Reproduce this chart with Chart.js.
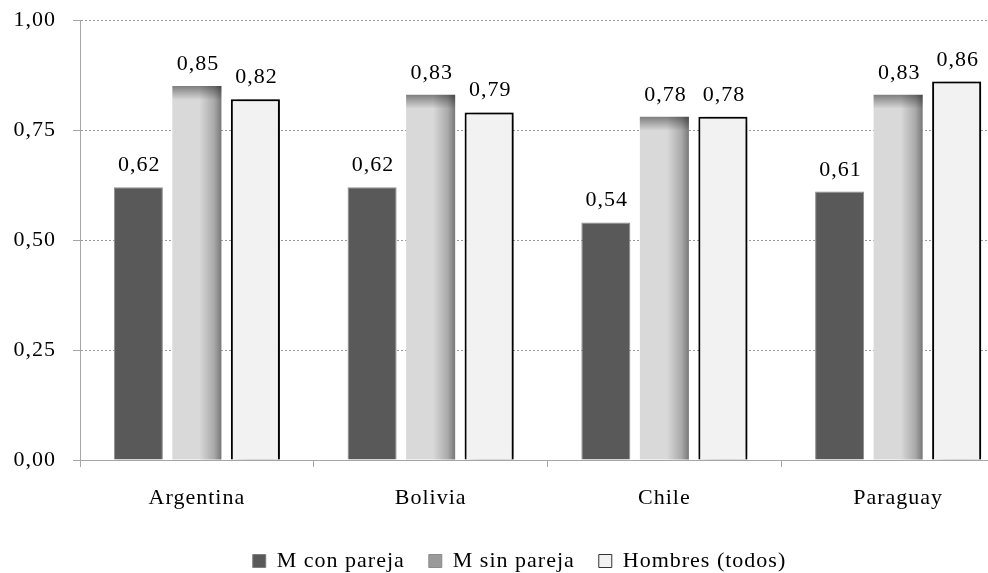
<!DOCTYPE html>
<html>
<head>
<meta charset="utf-8">
<script src="https://cdn.jsdelivr.net/npm/chart.js@4.4.1/dist/chart.umd.min.js"></script>
<style>
  html, body { margin: 0; padding: 0; background: #ffffff; overflow: hidden; }
  #wrap { width: 988px; height: 573px; overflow: hidden; position: relative; }
  canvas { display: block; }
</style>
</head>
<body>
<div id="wrap"><canvas id="c" width="1038" height="582"></canvas></div>
<script>
// Countries on the horizontal axis
const categories = ['Argentina', 'Bolivia', 'Chile', 'Paraguay'];

// Series values per country
const mConPareja = [0.62, 0.62, 0.54, 0.61];
const mSinPareja = [0.85, 0.83, 0.78, 0.83];
const hombresTodos = [0.82, 0.79, 0.78, 0.86];

const seriesNames = ['M con pareja', 'M sin pareja', 'Hombres (todos)'];

// Vertical axis tick labels (0 to 1 in steps of 0.25)
const yTickLabels = ['0,00', '0,25', '0,50', '0,75', '1,00'];

const FONT = { family: '"Liberation Serif", "Times New Roman", serif', size: 22 };
const TEXT = '#000000';
const AXIS = '#a6a6a6';

const fmt = v => v.toFixed(2).replace('.', ',');

// Slightly spaced lettering for all canvas text
const spacing = {
  id: 'spacing',
  beforeUpdate(chart) { chart.ctx.letterSpacing = '1px'; },
  beforeDraw(chart) { chart.ctx.letterSpacing = '1px'; }
};

// Legend sits a little right of the axis-area centre
const legendShift = {
  id: 'legendShift',
  afterLayout(chart) {
    if (chart.legend) {
      chart.legend.left += 12;
      chart.legend.right += 12;
    }
  }
};

// Shaded look: inner shading on the light bars, drop shadow on the outlined bars
const barEffects = {
  id: 'barEffects',
  beforeDatasetDraw(chart, args) {
    if (args.index === 2) {
      const ctx = chart.ctx;
      ctx.save();
      ctx.shadowColor = 'rgba(0,0,0,0.6)';
      ctx.shadowBlur = 10;
      ctx.shadowOffsetX = 4;
      ctx.shadowOffsetY = 1;
    }
  },
  afterDatasetDraw(chart, args) {
    const ctx = chart.ctx;
    if (args.index === 2) {
      ctx.restore();
    }
    if (args.index === 1) {
      args.meta.data.forEach(el => {
        const p = el.getProps(['x', 'y', 'base', 'width'], true);
        const left = p.x - p.width / 2;
        const right = p.x + p.width / 2;
        const top = p.y;
        const h = p.base - p.y;
        ctx.save();
        const gx = ctx.createLinearGradient(left, 0, right, 0);
        gx.addColorStop(0, 'rgba(0,0,0,0)');
        gx.addColorStop(0.55, 'rgba(0,0,0,0)');
        gx.addColorStop(0.85, 'rgba(0,0,0,0.22)');
        gx.addColorStop(1, 'rgba(0,0,0,0.45)');
        ctx.fillStyle = gx;
        ctx.fillRect(left, top, p.width, h);
        const gy = ctx.createLinearGradient(0, top, 0, top + 14);
        gy.addColorStop(0, 'rgba(0,0,0,0.42)');
        gy.addColorStop(1, 'rgba(0,0,0,0)');
        ctx.fillStyle = gy;
        ctx.fillRect(left, top, p.width, 14);
        ctx.restore();
      });
    }
  }
};

// Value labels above every bar
const valueLabels = {
  id: 'valueLabels',
  afterDatasetsDraw(chart) {
    const ctx = chart.ctx;
    ctx.save();
    ctx.font = `${FONT.size}px ${FONT.family}`;
    ctx.fillStyle = TEXT;
    ctx.textAlign = 'center';
    ctx.textBaseline = 'alphabetic';
    chart.data.datasets.forEach((ds, di) => {
      const meta = chart.getDatasetMeta(di);
      meta.data.forEach((el, i) => {
        const p = el.getProps(['x', 'y'], true);
        ctx.fillText(fmt(ds.data[i]), p.x + 1, p.y - 16);
      });
    });
    ctx.restore();
  }
};

new Chart(document.getElementById('c'), {
  type: 'bar',
  data: {
    labels: categories,
    datasets: [
      {
        label: seriesNames[0],
        data: mConPareja,
        backgroundColor: '#595959',
        borderColor: '#8c8c8c',
        borderWidth: 1
      },
      {
        label: seriesNames[1],
        data: mSinPareja,
        backgroundColor: '#d9d9d9',
        borderColor: '#d9d9d9',
        borderWidth: 0
      },
      {
        label: seriesNames[2],
        data: hombresTodos,
        backgroundColor: '#f2f2f2',
        borderColor: '#000000',
        borderWidth: 2
      }
    ]
  },
  options: {
    responsive: false,
    animation: false,
    devicePixelRatio: 1,
    categoryPercentage: 0.751,
    barPercentage: 0.838,
    layout: { padding: { top: 0, left: 0, right: 23, bottom: 0 } },
    plugins: {
      tooltip: { enabled: false },
      legend: {
        position: 'bottom',
        labels: {
          font: FONT,
          color: TEXT,
          boxWidth: 13,
          boxHeight: 13,
          padding: 24,
          generateLabels(chart) {
            const fills = ['#595959', '#9a9a9a', '#f2f2f2'];
            const strokes = ['#7f7f7f', '#8c8c8c', '#333333'];
            return chart.data.datasets.map((ds, i) => ({
              text: ds.label,
              fillStyle: fills[i],
              strokeStyle: strokes[i],
              lineWidth: 1,
              fontColor: TEXT,
              hidden: false,
              datasetIndex: i
            }));
          }
        }
      }
    },
    scales: {
      x: {
        offset: true,
        grid: {
          display: true,
          drawOnChartArea: false,
          drawTicks: true,
          tickLength: 7,
          offset: true,
          tickColor: AXIS,
          color: AXIS
        },
        border: { display: true, color: AXIS, width: 1 },
        ticks: { font: FONT, color: TEXT, padding: 18 },
        afterFit(scale) { scale.height = 66; }
      },
      y: {
        min: 0,
        max: 1,
        ticks: {
          stepSize: 0.25,
          font: FONT,
          color: TEXT,
          padding: 17,
          callback: (v, i) => yTickLabels[i]
        },
        grid: {
          color: '#9a9a9a',
          tickColor: AXIS,
          tickLength: 7,
          tickBorderDash: []
        },
        border: { display: true, color: AXIS, width: 1, dash: [2, 2] },
        afterFit(scale) {
          scale.width = 80;
          scale.paddingTop = 20;
        }
      }
    }
  },
  plugins: [spacing, legendShift, barEffects, valueLabels]
});
</script>
</body>
</html>
